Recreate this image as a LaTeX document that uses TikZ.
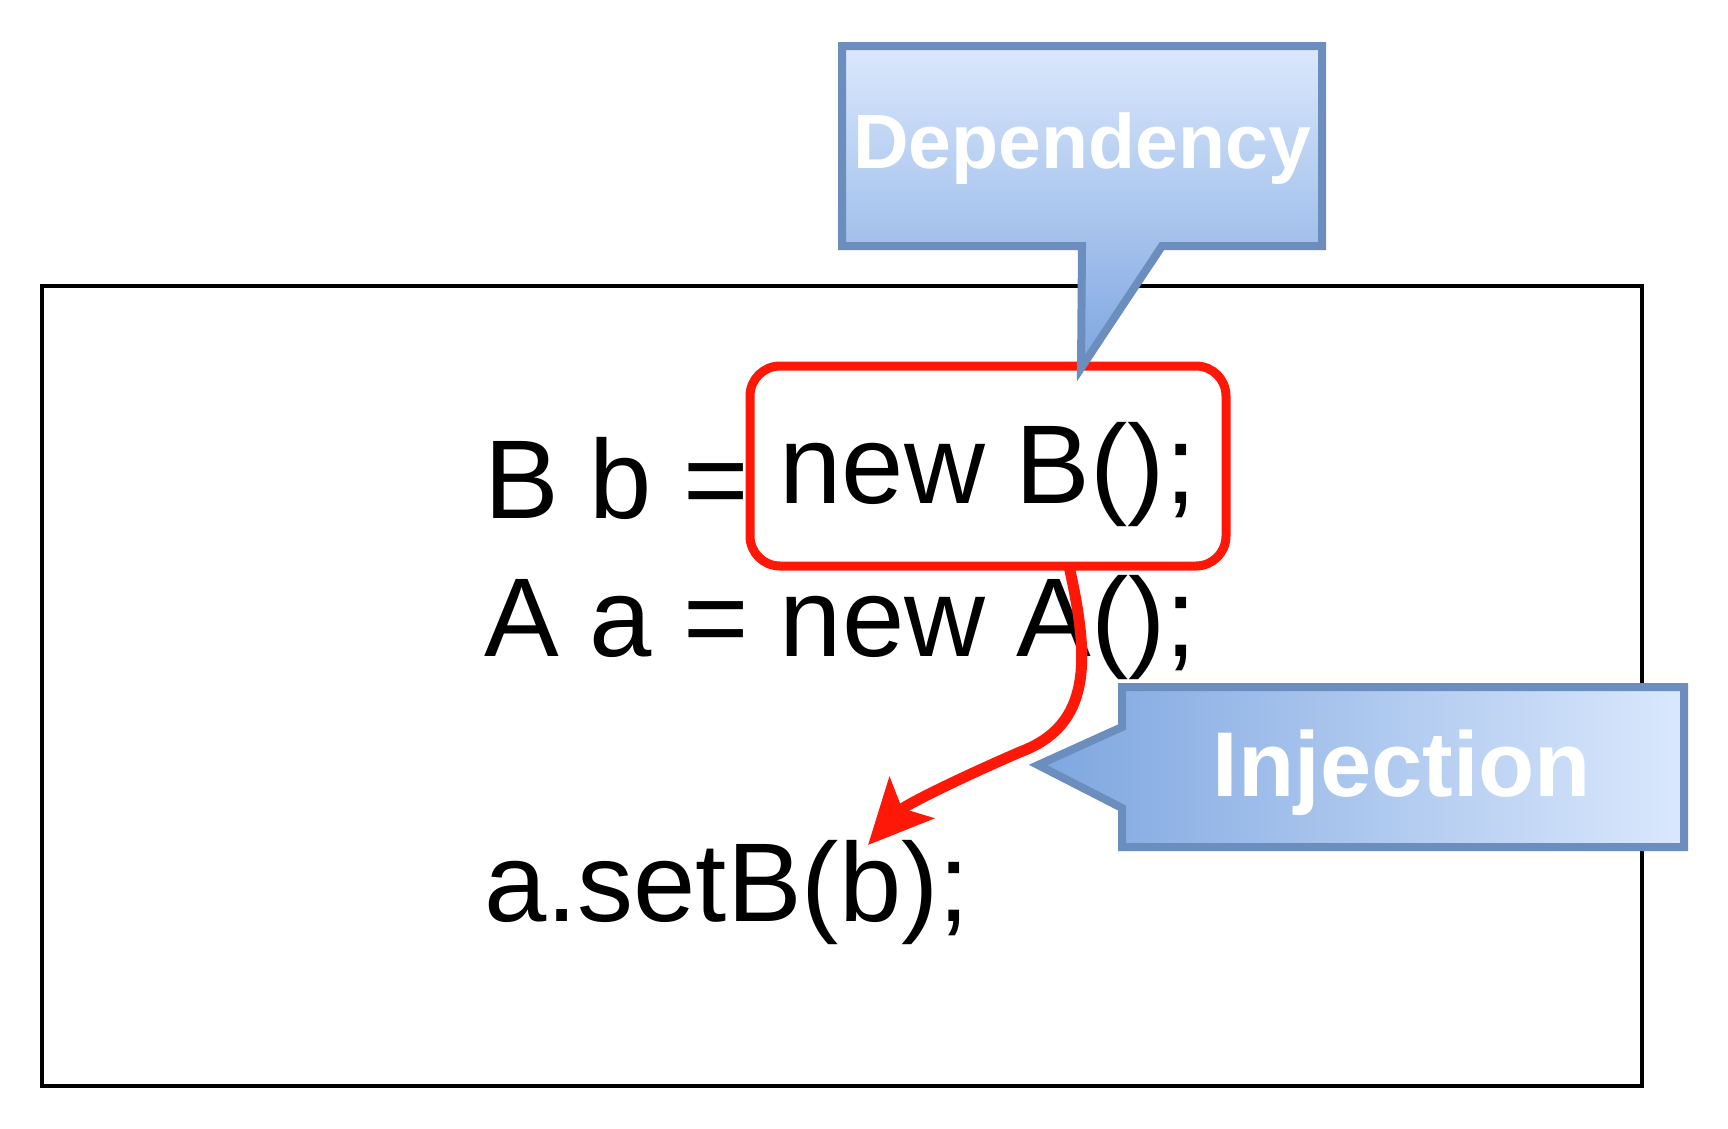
\documentclass[tikz,border=0pt]{standalone}
\usepackage{fontspec}
\setmainfont{Liberation Sans}
\usetikzlibrary{arrows.meta}
\definecolor{redline}{RGB}{255,24,8}
\definecolor{calloutdraw}{HTML}{6C8EBF}
\definecolor{gradlight}{HTML}{DAE8FC}
\definecolor{graddark}{HTML}{7EA6E0}
\begin{document}
\begin{tikzpicture}[x=1pt,y=-1pt,
  framebox/.style={draw=black, line width=4pt, minimum width=1600pt, minimum height=800pt, inner sep=0pt},
  codetext/.style={font=\fontsize{112}{134}\selectfont, inner sep=0pt, anchor=base west, text=black},
  redbox/.style={draw=redline, line width=9pt, rounded corners=30pt, fill=white, minimum width=476pt, minimum height=200pt, inner sep=0pt, font=\fontsize{112}{134}\selectfont, text height=80pt, text depth=6pt},
  calloutshape/.style={draw=calloutdraw, line width=8pt, line join=miter},
  callouttext/.style={text=white, font=\bfseries, inner sep=0pt, anchor=base},
  injarrow/.style={draw=redline, line width=11pt, -{Stealth[length=64pt,width=60pt,inset=14pt]}}
]
\useasboundingbox (0,0) rectangle (1728,1128);
\fill[white] (0,0) rectangle (1728,1128);

% outer frame
\node[framebox] (frame) at (842,686) {};

% code lines
\node[codetext] (line1) at (484,518) {B b =};
\node[codetext] (line2) at (484,656) {A a = new A();};
\node[codetext] (line3) at (484,921) {a.setB(b);};

% highlighted dependency box
\node[redbox] (newb) at (988,466) {new B();};

% injection arrow
\coordinate (arrowstart) at (1069,566);
\coordinate (arrowend) at (868,845);
\draw[injarrow] (arrowstart) .. controls (1090,660) and (1092,725) .. (1020,752)
  .. controls (960,778) and (905,805) .. (arrowend);

% Dependency callout
\path[calloutshape, top color=gradlight, bottom color=graddark]
  (842,46) -- (1322,46) -- (1322,246) -- (1162,246) -- (1081,368) -- (1082,246) -- (842,246) -- cycle;
\node[callouttext, font=\bfseries\fontsize{77}{90}\selectfont] (deptext) at (1082,168) {Dependency};

% Injection callout
\path[calloutshape, left color=graddark, right color=gradlight]
  (1122,687) -- (1684,687) -- (1684,847) -- (1122,847) -- (1122,808) -- (1038,765) -- (1122,727) -- cycle;
\node[callouttext, font=\bfseries\fontsize{92}{110}\selectfont] (injtext) at (1402,796) {Injection};
\end{tikzpicture}
\end{document}
